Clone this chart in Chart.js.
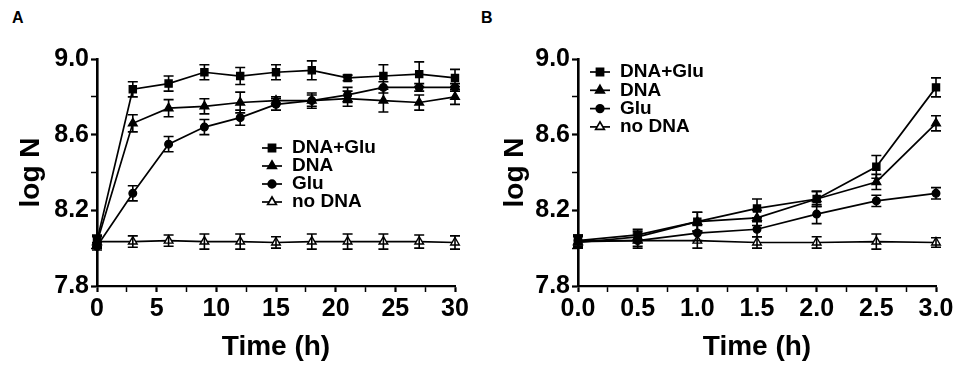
<!DOCTYPE html>
<html>
<head>
<meta charset="utf-8">
<script src="https://cdn.jsdelivr.net/npm/chart.js@4.4.1/dist/chart.umd.min.js"></script>
<style>
  body { margin: 0; background: #fff; width: 957px; height: 367px; overflow: hidden; position: relative; }
  .panel { position: absolute; top: 0; }
  .letter { position: absolute; top: 9px; font: bold 16px Arial, "Liberation Sans", sans-serif; color: #000; }
</style>
</head>
<body>
<div class="letter" style="left:12px">A</div>
<div class="letter" style="left:481px">B</div>
<div class="panel" style="left:0"><canvas id="chartA" width="478" height="367"></canvas></div>
<div class="panel" style="left:478px"><canvas id="chartB" width="479" height="367"></canvas></div>
<script>
// Series labels
const seriesNames = ['DNA+Glu', 'DNA', 'Glu', 'no DNA'];
const yTickLabels = ['7.8', '8.2', '8.6', '9.0'];

// Panel A: 0-30 h
const timeA = [0, 3, 6, 9, 12, 15, 18, 21, 24, 27, 30];
const dnaGluA = [8.04, 8.84, 8.87, 8.93, 8.91, 8.93, 8.94, 8.90, 8.91, 8.92, 8.90];
const dnaGluErrA = [0.03, 0.04, 0.04, 0.04, 0.045, 0.04, 0.05, 0.015, 0.06, 0.065, 0.045];
const dnaA = [8.03, 8.66, 8.74, 8.75, 8.77, 8.78, 8.78, 8.79, 8.78, 8.77, 8.80];
const dnaErrA = [0.03, 0.045, 0.045, 0.04, 0.055, 0.02, 0.04, 0.04, 0.06, 0.04, 0.04];
const gluA = [8.01, 8.29, 8.55, 8.64, 8.69, 8.76, 8.78, 8.81, 8.85, 8.85, 8.85];
const gluErrA = [0.02, 0.04, 0.04, 0.04, 0.04, 0.03, 0.03, 0.04, 0.03, 0.02, 0.02];
const noDnaA = [8.035, 8.035, 8.04, 8.035, 8.035, 8.03, 8.035, 8.035, 8.035, 8.035, 8.03];
const noDnaErrA = [0.03, 0.03, 0.03, 0.04, 0.04, 0.03, 0.04, 0.04, 0.04, 0.035, 0.035];

// Panel B: 0-3 h
const timeB = [0, 0.5, 1.0, 1.5, 2.0, 2.5, 3.0];
const dnaGluB = [8.04, 8.07, 8.14, 8.21, 8.26, 8.43, 8.85];
const dnaGluErrB = [0.03, 0.03, 0.05, 0.05, 0.04, 0.06, 0.05];
const dnaB = [8.03, 8.06, 8.14, 8.16, 8.26, 8.35, 8.66];
const dnaErrB = [0.03, 0.03, 0.05, 0.04, 0.04, 0.04, 0.04];
const gluB = [8.04, 8.04, 8.08, 8.10, 8.18, 8.25, 8.29];
const gluErrB = [0.03, 0.04, 0.04, 0.04, 0.05, 0.03, 0.03];
const noDnaB = [8.035, 8.04, 8.04, 8.03, 8.03, 8.035, 8.03];
const noDnaErrB = [0.03, 0.03, 0.04, 0.03, 0.03, 0.04, 0.025];

const pointStyles = [
  { pointStyle: 'rect', radius: 5, fill: '#000' },
  { pointStyle: 'triangle', radius: 5, fill: '#000' },
  { pointStyle: 'circle', radius: 3.8, fill: '#000' },
  { pointStyle: 'triangle', radius: 5, fill: '#fff' }
];

const fontFamily = 'Arial, "Liberation Sans", sans-serif';

function buildDatasets(times, values, errors) {
  return values.map((vals, i) => ({
    label: seriesNames[i],
    data: times.map((t, j) => ({ x: t, y: vals[j] })),
    errors: errors[i],
    borderColor: '#000',
    borderWidth: 1.7,
    pointStyle: pointStyles[i].pointStyle,
    pointRadius: pointStyles[i].radius,
    pointBackgroundColor: pointStyles[i].fill,
    pointBorderColor: '#000',
    pointBorderWidth: 1.4,
    tension: 0,
    clip: false
  }));
}

// Error bars drawn through the scales
const errorBars = {
  id: 'errorBars',
  afterDatasetsDraw(chart) {
    const ctx = chart.ctx;
    const xs = chart.scales.x, ys = chart.scales.y;
    ctx.save();
    ctx.strokeStyle = '#000';
    ctx.lineWidth = 1.6;
    chart.data.datasets.forEach(ds => {
      ds.data.forEach((p, j) => {
        const e = ds.errors[j];
        const x = xs.getPixelForValue(p.x);
        const top = ys.getPixelForValue(p.y + e);
        const bot = ys.getPixelForValue(p.y - e);
        ctx.beginPath();
        ctx.moveTo(x, top); ctx.lineTo(x, bot);
        ctx.moveTo(x - 5, top); ctx.lineTo(x + 5, top);
        ctx.moveTo(x - 5, bot); ctx.lineTo(x + 5, bot);
        ctx.stroke();
      });
    });
    ctx.restore();
  }
};

// Legend drawn inside the plot
const innerLegend = {
  id: 'innerLegend',
  afterDraw(chart, args, opts) {
    const ctx = chart.ctx;
    ctx.save();
    ctx.font = 'bold 19px ' + fontFamily;
    ctx.textBaseline = 'middle';
    ctx.fillStyle = '#000';
    seriesNames.forEach((name, i) => {
      const y = opts.y + i * opts.rowH;
      ctx.strokeStyle = '#000';
      ctx.lineWidth = 1.7;
      ctx.beginPath();
      ctx.moveTo(opts.x, y); ctx.lineTo(opts.x + 20, y);
      ctx.stroke();
      ctx.fillStyle = pointStyles[i].fill;
      Chart.helpers.drawPoint(ctx, {
        pointStyle: pointStyles[i].pointStyle,
        radius: pointStyles[i].radius,
        borderWidth: 1.4,
        rotation: 0
      }, opts.x + 10, y);
      ctx.fillStyle = '#000';
      ctx.fillText(name, opts.x + 30, y);
    });
    ctx.restore();
  }
};

function makeChart(id, times, values, errors, cfg) {
  new Chart(document.getElementById(id), {
    type: 'line',
    data: { datasets: buildDatasets(times, values, errors) },
    options: {
      responsive: false,
      animation: false,
      layout: { padding: { left: 0, top: 59, right: cfg.padRight, bottom: 0 } },
      plugins: {
        legend: { display: false },
        tooltip: { enabled: false },
        innerLegend: cfg.legend
      },
      scales: {
        x: {
          type: 'linear',
          min: cfg.xMin,
          max: cfg.xMax,
          afterFit: s => { s.height = 81; },
          ticks: {
            stepSize: cfg.xStep,
            autoSkip: false,
            maxRotation: 0,
            color: '#000',
            padding: 2,
            font: { family: fontFamily, weight: 'bold', size: 25 },
            callback: cfg.xLabel
          },
          grid: {
            drawOnChartArea: false,
            tickLength: 6,
            tickColor: '#000',
            tickWidth: c => (cfg.xLabel(c.tick.value) === '' ? 1.5 : 2.2)
          },
          border: { color: '#000', width: 2.2 },
          title: {
            display: true,
            text: 'Time (h)',
            color: '#000',
            padding: { top: 0, bottom: 3 },
            font: { family: fontFamily, weight: 'bold', size: 28 }
          }
        },
        y: {
          min: 7.8,
          max: 9.0,
          afterFit: s => { s.width = cfg.yWidth; },
          ticks: {
            stepSize: 0.2,
            color: '#000',
            padding: 2,
            font: { family: fontFamily, weight: 'bold', size: 25 },
            callback: v => (yTickLabels.includes(v.toFixed(1)) ? v.toFixed(1) : '')
          },
          grid: {
            drawOnChartArea: false,
            tickLength: 6,
            tickColor: '#000',
            tickWidth: c => (yTickLabels.includes(c.tick.value.toFixed(1)) ? 2.2 : 1.5)
          },
          border: { color: '#000', width: 2.6 },
          title: {
            display: true,
            text: 'log N',
            color: '#000',
            padding: { top: cfg.yTitlePad, bottom: 0 },
            font: { family: fontFamily, weight: 'bold', size: 28 }
          }
        }
      }
    },
    plugins: [errorBars, innerLegend]
  });
}

makeChart('chartA', timeA,
  [dnaGluA, dnaA, gluA, noDnaA],
  [dnaGluErrA, dnaErrA, gluErrA, noDnaErrA],
  {
    xMin: 0, xMax: 30, xStep: 2.5, padRight: 23, yWidth: 97, yTitlePad: 14,
    xLabel: v => (v % 5 === 0 ? String(v) : ''),
    legend: { x: 262, y: 148, rowH: 18 }
  });

makeChart('chartB', timeB,
  [dnaGluB, dnaB, gluB, noDnaB],
  [dnaGluErrB, dnaErrB, gluErrB, noDnaErrB],
  {
    xMin: 0, xMax: 3, xStep: 0.25, padRight: 21, yWidth: 100, yTitlePad: 20,
    xLabel: v => (Math.abs(v * 2 - Math.round(v * 2)) < 1e-6 ? v.toFixed(1) : ''),
    legend: { x: 112, y: 72, rowH: 18.3 }
  });
</script>
</body>
</html>
